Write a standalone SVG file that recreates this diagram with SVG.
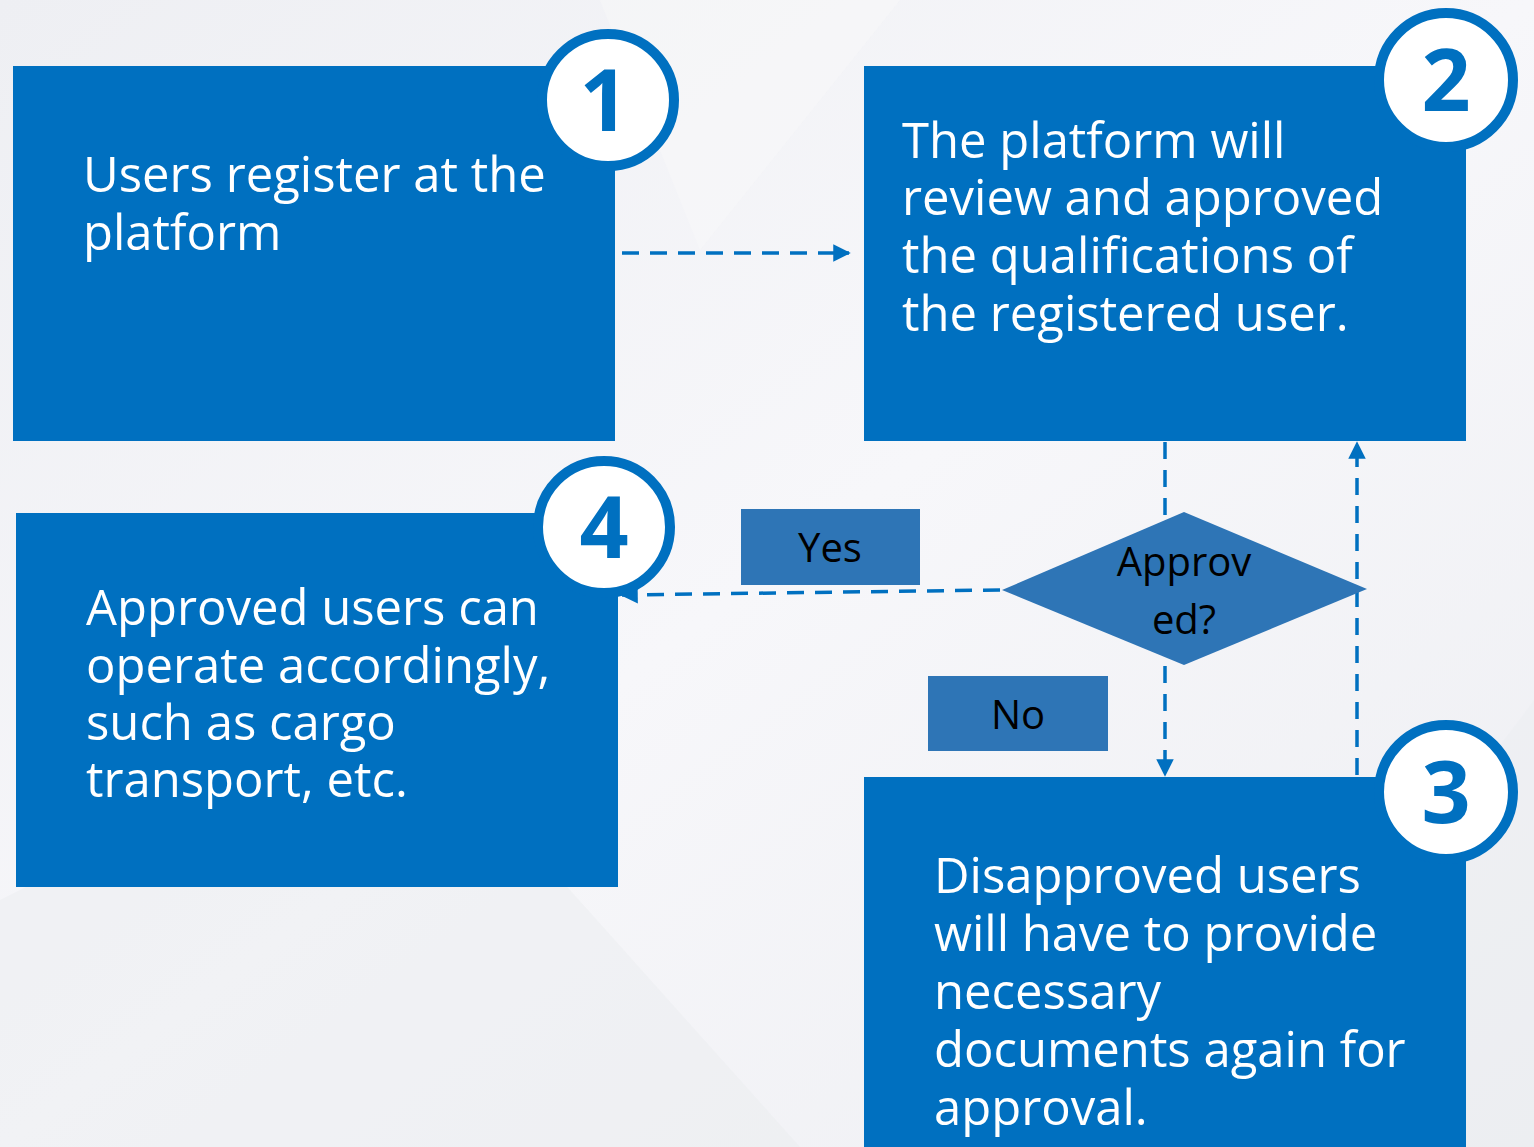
<svg xmlns="http://www.w3.org/2000/svg" width="1534" height="1147" viewBox="0 0 1534 1147">
<defs>
<linearGradient id="bg" x1="0" y1="0" x2="1" y2="1">
<stop offset="0" stop-color="#EEEFF3"/>
<stop offset="0.5" stop-color="#F7F7FA"/>
<stop offset="1" stop-color="#EDEEF2"/>
</linearGradient>
<marker id="ah" viewBox="0 0 10 10" refX="9" refY="5" markerWidth="5" markerHeight="5" orient="auto" markerUnits="strokeWidth">
<path d="M0,0 L10,5 L0,10 z" fill="#0070C0"/>
</marker>
<style>
.box{fill:#0070C0}
.txt{font-family:"Open Sans","Noto Sans","DejaVu Sans",sans-serif;font-size:49px;fill:#FFFFFF}
.num{font-family:"Open Sans","Noto Sans","DejaVu Sans",sans-serif;font-size:86px;font-weight:700;fill:#0070C0;text-anchor:middle}
.lbl{font-family:"Open Sans","Noto Sans","DejaVu Sans",sans-serif;font-size:40px;fill:#000000;text-anchor:middle}
.conn{stroke:#0070C0;stroke-width:3.5;stroke-dasharray:17 11;fill:none}
.ring{fill:#FFFFFF;stroke:#0070C0;stroke-width:10}
.dec{fill:#2E75B6}
</style>
</defs>
<rect width="1534" height="1147" fill="url(#bg)"/>
<g opacity="0.4">
<polygon points="0,900 400,700 800,1147 0,1147" fill="#E9EAEE"/>
<polygon points="1200,1147 1534,700 1534,1147" fill="#ECEDF1"/>
<polygon points="600,0 900,0 700,250" fill="#F9F9FB"/>
</g>
<g id="connectors">
<line class="conn" x1="622" y1="253" x2="849" y2="253" marker-end="url(#ah)"/>
<line class="conn" x1="1165" y1="442" x2="1165" y2="775" marker-end="url(#ah)"/>
<line class="conn" x1="1000" y1="590" x2="622" y2="595" marker-end="url(#ah)"/>
<line class="conn" x1="1357" y1="775" x2="1357" y2="443" marker-end="url(#ah)"/>
</g>
<g id="node1">
<rect class="box" x="13" y="66" width="602" height="375"/>
<text class="txt" x="83" y="192">Users register at the</text>
<text class="txt" x="83" y="250">platform</text>
<circle class="ring" cx="608" cy="100" r="66"/>
<text class="num" x="604" y="131">1</text>
</g>
<g id="node2">
<rect class="box" x="864" y="66" width="602" height="375"/>
<text class="txt" x="902" y="158">The platform will</text>
<text class="txt" x="902" y="215">review and approved</text>
<text class="txt" x="902" y="273">the qualifications of</text>
<text class="txt" x="902" y="331">the registered user.</text>
<circle class="ring" cx="1446" cy="80" r="67"/>
<text class="num" x="1446" y="111">2</text>
</g>
<g id="node4">
<rect class="box" x="16" y="513" width="602" height="374"/>
<text class="txt" x="86" y="625">Approved users can</text>
<text class="txt" x="86" y="683">operate accordingly,</text>
<text class="txt" x="86" y="740">such as cargo</text>
<text class="txt" x="86" y="797">transport, etc.</text>
<circle class="ring" cx="604" cy="527" r="66"/>
<text class="num" x="604" y="558">4</text>
</g>
<g id="node3">
<rect class="box" x="864" y="777" width="602" height="370"/>
<text class="txt" x="934" y="893">Disapproved users</text>
<text class="txt" x="934" y="951">will have to provide</text>
<text class="txt" x="934" y="1009">necessary</text>
<text class="txt" x="934" y="1067">documents again for</text>
<text class="txt" x="934" y="1125">approval.</text>
<circle class="ring" cx="1446" cy="792" r="67"/>
<text class="num" x="1446" y="823">3</text>
</g>
<g id="decision">
<polygon class="dec" points="1002,590 1184,512 1367,589 1184,665"/>
<text class="lbl" x="1184" y="576">Approv</text>
<text class="lbl" x="1184" y="634">ed?</text>
</g>
<g id="label-yes">
<rect class="dec" x="741" y="509" width="179" height="76"/>
<text class="lbl" x="830" y="562">Yes</text>
</g>
<g id="label-no">
<rect class="dec" x="928" y="676" width="180" height="75"/>
<text class="lbl" x="1018" y="729">No</text>
</g>
</svg>
